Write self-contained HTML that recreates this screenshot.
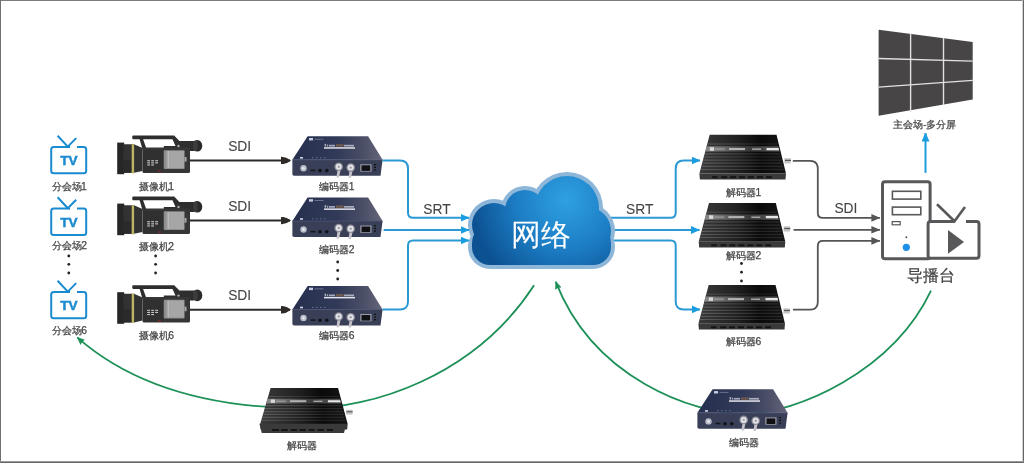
<!DOCTYPE html>
<html><head><meta charset="utf-8">
<style>
html,body{margin:0;padding:0;background:#fff;}
body{width:1024px;height:463px;overflow:hidden;position:relative;font-family:"Liberation Sans",sans-serif;}
svg{position:absolute;left:0;top:0;will-change:transform;}
.lbl{font-family:"Liberation Sans",sans-serif;fill:#444;stroke:#444;stroke-width:0.25px;}
</style></head><body>
<svg width="1024" height="463" viewBox="0 0 1024 463">
<defs>
  <linearGradient id="encTop" x1="0" y1="0" x2="1" y2="0">
    <stop offset="0" stop-color="#26304e"/>
    <stop offset="0.5" stop-color="#313a58"/>
    <stop offset="0.8" stop-color="#4c5068"/>
    <stop offset="1" stop-color="#66677a"/>
  </linearGradient>
  <linearGradient id="decTop" x1="0" y1="0" x2="1" y2="0">
    <stop offset="0" stop-color="#3a3a3a"/>
    <stop offset="0.45" stop-color="#202020"/>
    <stop offset="0.7" stop-color="#0a0a0a"/>
    <stop offset="1" stop-color="#161616"/>
  </linearGradient>
  <radialGradient id="cloudG" cx="0.55" cy="0.35" r="0.7">
    <stop offset="0" stop-color="#2d9ad9"/>
    <stop offset="0.6" stop-color="#1a78be"/>
    <stop offset="1" stop-color="#0d5a9a"/>
  </radialGradient>

  <!-- TV icon (row1 coords) -->
  <g id="tv">
    <path d="M70,147 H53.7 Q51.2,147 51.2,149.5 V170.8 Q51.2,173.3 53.7,173.3 H83.7 Q86.2,173.3 86.2,170.8 V149.5 Q86.2,147 83.7,147 H77" fill="none" stroke="#1b8bd0" stroke-width="2"/>
    <polyline points="57.6,135.7 67.8,146.6 76.2,138.1" fill="none" stroke="#1b8bd0" stroke-width="2"/>
    <text x="69" y="165.2" text-anchor="middle" font-family="Liberation Sans" font-weight="bold" font-size="13.6" fill="#1b8bd0" stroke="#1b8bd0" stroke-width="0.5">TV</text>
  </g>

  <!-- Camera (row1 coords) -->
  <g id="cam">
    <!-- handle -->
    <path d="M133,135.6 H174.2 L179.4,141 H194 V151 H143 L139.6,139.3 H133 Q132.2,139.3 132.2,137.5 Q132.2,135.6 133,135.6 Z" fill="#2e2e2e"/>
    <path d="M143.1,139.3 H172.5 L175.5,146 H163.8 V148.1 H146.2 Z" fill="#fff"/>
    <!-- eyecup -->
    <ellipse cx="197.3" cy="145.8" rx="5" ry="5.8" fill="#2a2a2a"/>
    <ellipse cx="195.3" cy="145.8" rx="2.4" ry="5.2" fill="#3c3c3c"/>
    <!-- lens -->
    <rect x="117.2" y="142.6" width="7" height="31.6" fill="#262626"/>
    <path d="M123.5,144.2 H134 L142.5,148 V171 L134,172.8 H123.5 Z" fill="#323232"/>
    <rect x="123.5" y="160" width="8" height="12.8" fill="#2a2a2a"/>
    <rect x="131.7" y="144.2" width="2.4" height="29.2" fill="#bdb464"/>
    <!-- body -->
    <rect x="142.5" y="147.5" width="47.5" height="25.5" rx="1.5" fill="#363636"/>
    <rect x="143" y="150" width="20" height="22" fill="#303030"/>
    <!-- screen -->
    <rect x="163.8" y="150.2" width="20.8" height="18.7" rx="1" fill="#8e8e8e"/>
    <rect x="166.5" y="151" width="17.5" height="17" fill="#a6a6a6"/>
    <rect x="168" y="151" width="1" height="17" fill="#b8b8b8"/>
    <rect x="184.5" y="157" width="2" height="4.6" fill="#aaa"/>
    <!-- buttons -->
    <g fill="#c8c8c8">
      <rect x="147.2" y="160.2" width="2.8" height="1.1"/><rect x="151.2" y="160.2" width="2.8" height="1.1"/><rect x="155.2" y="160.2" width="2.8" height="1.1"/>
      <rect x="147.2" y="162.3" width="2.8" height="1.1"/><rect x="151.2" y="162.3" width="2.8" height="1.1"/><rect x="155.2" y="162.3" width="2.8" height="1.1"/>
      <rect x="147.2" y="164.4" width="2.8" height="1.1"/><rect x="151.2" y="164.4" width="2.8" height="1.1"/>
    </g>
    <circle cx="178.5" cy="146" r="1.2" fill="#aaa"/>
    <rect x="158" y="170.5" width="3" height="1.2" fill="#8a2a2a"/>
  </g>

  <!-- Encoder (row1 coords) -->
  <g id="enc">
    <path d="M307.6,136.2 H368.1 L382.6,159.7 H292.4 Z" fill="url(#encTop)"/>
    <path d="M292.4,159.7 H382.6 L380.5,175.7 H294 Q292.4,175.7 292.4,174 Z" fill="#393f57"/>
    <rect x="292.4" y="159.5" width="90" height="0.8" fill="#4a5270"/>
    <!-- logo -->
    <rect x="309" y="138" width="4" height="2.4" fill="#c8cce0"/>
    <rect x="314.5" y="138.8" width="9" height="0.8" fill="#7a80a0"/>
    <g fill="#d8dae6" opacity="0.7"><rect x="324.6" y="143.9" width="1.6" height="2.6"/><rect x="327" y="144.6" width="1.2" height="1.9"/><rect x="329" y="144.8" width="6" height="1.7"/><rect x="344" y="144.8" width="10" height="1.7"/></g>
    <rect x="336" y="144.2" width="7.5" height="2.4" fill="#6e5a4c"/>
    <rect x="324" y="147.2" width="31" height="1.5" fill="#e4e4ec"/>
    <rect x="300" y="157" width="3" height="1.6" fill="#d0d4e4"/>
    <g fill="#6a7090"><rect x="312" y="157.2" width="1.5" height="1"/><rect x="316" y="157.2" width="1.5" height="1"/><rect x="320" y="157.2" width="1.5" height="1"/><rect x="324" y="157.2" width="1.5" height="1"/></g>
    <!-- front components -->
    <circle cx="303.5" cy="168.3" r="3.2" fill="#b8bcc8"/>
    <circle cx="303.5" cy="168.3" r="1.4" fill="#e8e8ee"/>
    <rect x="310.5" y="169.6" width="5" height="1.6" fill="#151821"/>
    <circle cx="320" cy="170.6" r="1.8" fill="#11131a"/>
    <circle cx="326.8" cy="170.6" r="1.8" fill="#11131a"/>
    <!-- BNC -->
    <path d="M337.5,170 L336.5,177.5 L339,177.5 L340.5,170 Z" fill="#c9c4cc"/>
    <path d="M349.5,171 L348.5,177.8 L351,177.8 L352.5,171 Z" fill="#c9c4cc"/>
    <circle cx="338.7" cy="166.8" r="4.3" fill="#8e8e98"/>
    <circle cx="338.7" cy="166.8" r="3" fill="#e4e4ea"/>
    <circle cx="338.7" cy="166.8" r="1.2" fill="#a0a0a8"/>
    <circle cx="350.7" cy="167.6" r="4.3" fill="#8e8e98"/>
    <circle cx="350.7" cy="167.6" r="3" fill="#e4e4ea"/>
    <circle cx="350.7" cy="167.6" r="1.2" fill="#a0a0a8"/>
    <!-- RJ45 -->
    <rect x="360.3" y="164.3" width="11.2" height="7.3" fill="#9c9eaa"/>
    <rect x="361.5" y="165.3" width="8.8" height="5.6" fill="#101015"/>
    <g fill="#111"><rect x="374" y="164" width="2" height="1.2"/><rect x="374" y="166.7" width="2" height="1.2"/><rect x="374" y="169.4" width="2" height="1.2"/></g>
  </g>

  <!-- Decoder (row1 coords) -->
  <g id="dec">
    <path d="M709.7,134.8 H776.5 L786,173.6 H699.4 Z" fill="url(#decTop)"/>
    <g fill="url(#decRidge)">
      <path d="M707.6,143.6 H777.4 L777.6,144.4 H707.4 Z"/>
      <path d="M705.2,153.2 H779.8 L780.1,154.4 H704.9 Z"/>
      <path d="M704.4,156.4 H780.5 L780.8,157.6 H704.1 Z"/>
      <path d="M703.6,159.6 H781.3 L781.6,160.8 H703.3 Z"/>
      <path d="M702.9,162.6 H782.0 L782.3,163.8 H702.6 Z"/>
      <path d="M702.1,165.8 H782.8 L783.1,167.0 H701.8 Z"/>
      <path d="M701.3,169.0 H783.6 L783.9,170.0 H701.0 Z"/>
    </g>
    <path d="M706.6,146.3 H778.2 L779.5,151.6 H705.3 Z" fill="url(#decStrip)"/>
    <rect x="709.8" y="147.2" width="4.2" height="3.6" fill="#d8d8d8"/>
    <rect x="715" y="148.5" width="10" height="1" fill="#aaa"/>
    <rect x="729" y="148" width="16" height="2" fill="#b4b4b4"/>
    <rect x="752" y="148.5" width="9" height="1.2" fill="#bbb"/>
    <path d="M766.5,147.9 H778.6 L779.1,150.2 H766.5 Z" fill="#e6e6e6"/>
    <path d="M699.4,173.6 H786 L785.5,179.5 H699.9 Z" fill="#393939"/>
    <g fill="#141414">
      <rect x="711.9" y="176.2" width="5.7" height="2"/><rect x="721.2" y="176.2" width="6" height="2"/><rect x="730" y="176.2" width="6" height="2"/>
      <rect x="739" y="176.2" width="6" height="2"/><rect x="748" y="176.2" width="6" height="2"/><rect x="757" y="176.2" width="6" height="2"/><rect x="766" y="176.2" width="6" height="2"/>
    </g>
    <rect x="784.3" y="158.2" width="6.5" height="5.2" fill="#c4c4c4"/>
    <rect x="785" y="159.8" width="6" height="1.2" fill="#555"/>
  </g>

  <marker id="arrDark" viewBox="0 0 10 8" refX="9" refY="4" markerWidth="10" markerHeight="8" markerUnits="userSpaceOnUse" orient="auto">
    <path d="M0,0.3 Q5,0 10,4 Q5,8 0,7.7 Z" fill="#2e2a28"/>
  </marker>
  <marker id="arrBlue" viewBox="0 0 9 8" refX="8.5" refY="4" markerWidth="9" markerHeight="8" markerUnits="userSpaceOnUse" orient="auto">
    <path d="M0,0 L9,4 L0,8 Z" fill="#1a9ddf"/>
  </marker>
  <marker id="arrGray" viewBox="0 0 9 8" refX="8.5" refY="4" markerWidth="9" markerHeight="8" markerUnits="userSpaceOnUse" orient="auto">
    <path d="M0,0.2 L9,4 L0,7.8 Z" fill="#555"/>
  </marker>
  <marker id="arrGreen" viewBox="0 0 8 7" refX="7.5" refY="3.5" markerWidth="8" markerHeight="7" markerUnits="userSpaceOnUse" orient="auto">
    <path d="M0,0 L8,3.5 L0,7 L0.8,3.5 Z" fill="#1d9058"/>
  </marker>
  <radialGradient id="cloudG2" gradientUnits="userSpaceOnUse" cx="566" cy="200" r="95" fx="566" fy="200">
    <stop offset="0" stop-color="#2fa0e2"/>
    <stop offset="0.5" stop-color="#1d7fc6"/>
    <stop offset="1" stop-color="#0c5192"/>
  </radialGradient>
  <linearGradient id="decRidge" x1="0" y1="0" x2="1" y2="0">
    <stop offset="0" stop-color="#5e5e5e"/>
    <stop offset="0.5" stop-color="#3a3a3a"/>
    <stop offset="0.75" stop-color="#222"/>
    <stop offset="1" stop-color="#2c2c2c"/>
  </linearGradient>
  <linearGradient id="decStrip" x1="0" y1="0" x2="1" y2="0">
    <stop offset="0" stop-color="#8a8a8a"/>
    <stop offset="0.6" stop-color="#3a3a3a"/>
    <stop offset="1" stop-color="#5a5a5a"/>
  </linearGradient>
</defs>

<!-- border -->
<rect x="0" y="0" width="1024" height="1" fill="#7c7c7c"/><rect x="0" y="0" width="1" height="463" fill="#707070"/><rect x="1023" y="0" width="1" height="463" fill="#666"/><rect x="1022" y="0" width="1" height="463" fill="#d0d0d0"/><rect x="0" y="462" width="1024" height="1" fill="#666"/><rect x="0" y="461" width="1024" height="1" fill="#999"/>


<!-- green curves -->
<path d="M534.1,285.2 C473.6,378.3 369.0,408.4 307.1,408.4 C250.7,408.4 150.6,402.1 77.2,337.4" fill="none" stroke="#1d9058" stroke-width="1.8" marker-end="url(#arrGreen)"/>
<path d="M931.0,290.7 C892.4,372.1 795.7,413.9 744.0,413.9 C693.9,413.9 593.4,379.0 555.7,281.6" fill="none" stroke="#1d9058" stroke-width="1.8" marker-end="url(#arrGreen)"/>
<!-- TVs -->
<use href="#tv"/>
<use href="#tv" transform="translate(0,61.6)"/>
<use href="#tv" transform="translate(0,145)"/>
<!-- cameras -->
<use href="#cam"/>
<use href="#cam" transform="translate(0,61)"/>
<use href="#cam" transform="translate(0,149.6)"/>
<!-- SDI lines left -->
<g stroke="#2e2a28" stroke-width="2" fill="none">
  <path d="M189.8,160.4 H290" marker-end="url(#arrDark)"/>
  <path d="M189.8,220.6 H290" marker-end="url(#arrDark)"/>
  <path d="M189.8,309.7 H290" marker-end="url(#arrDark)"/>
</g>
<!-- encoders -->
<use href="#enc"/>
<use href="#enc" transform="translate(0,61.2)"/>
<use href="#enc" transform="translate(0,149.7)"/>
<use href="#enc" transform="translate(405,253.1)"/>
<!-- blue lines right -->
<g stroke="#2b9ad4" stroke-width="2" fill="none">
  <path d="M600,217.7 H670.7 Q675.7,217.7 675.7,212.7 V168.5 Q675.7,160.5 683.7,160.5 H700" marker-end="url(#arrBlue)"/>
  <path d="M600,230 H699.5" marker-end="url(#arrBlue)"/>
  <path d="M600,240.4 H670.7 Q675.7,240.4 675.7,245.4 V301.4 Q675.7,309.4 683.7,309.4 H700" marker-end="url(#arrBlue)"/>
</g>
<!-- cloud -->
<g id="cloud">
  <g fill="#8db6d9">
    <circle cx="494" cy="225" r="26"/>
    <circle cx="525" cy="210" r="24"/>
    <circle cx="567" cy="208" r="36"/>
    <circle cx="587" cy="231" r="28"/>
    <rect x="468" y="225" width="147" height="44" rx="22"/>
    <rect x="491" y="215" width="100" height="50"/>
  </g>
  <g fill="url(#cloudG2)">
    <circle cx="494" cy="225" r="22"/>
    <circle cx="525" cy="210" r="20"/>
    <circle cx="567" cy="208" r="32"/>
    <circle cx="587" cy="231" r="24"/>
    <rect x="472" y="225" width="139" height="40" rx="18"/>
    <rect x="491" y="215" width="100" height="45"/>
  </g>
  <text x="541" y="244.5" text-anchor="middle" font-size="29.5" font-weight="300" fill="#fff">网络</text>
</g>
<!-- blue lines left -->
<g stroke="#2b9ad4" stroke-width="2" fill="none">
  <path d="M382.6,160.5 H400 Q408,160.5 408,168.5 V212.8 Q408,217.8 413,217.8 H469" marker-end="url(#arrBlue)"/>
  <path d="M383.6,230 H469" marker-end="url(#arrBlue)"/>
  <path d="M382.6,309.6 H400 Q408,309.6 408,301.6 V245.5 Q408,240.5 413,240.5 H469" marker-end="url(#arrBlue)"/>
</g>
<!-- decoders -->
<use href="#dec"/>
<use href="#dec" transform="translate(-0.7,68.1)"/>
<use href="#dec" transform="translate(-1,150.1)"/>
<use href="#dec" transform="matrix(1.01,0,0,0.93,-446.2,262.6)"/>
<path d="M259.4,423.8 H346.3 L344,433 H261.8 Z" fill="#3a3a3a"/>
<g fill="#151515"><rect x="272" y="429" width="7" height="2"/><rect x="281.3" y="429" width="6.5" height="2"/><rect x="290.6" y="429" width="6.5" height="2"/><rect x="299.4" y="429" width="6.5" height="2"/><rect x="308.7" y="429" width="6" height="2"/><rect x="317.5" y="429" width="6.5" height="2"/><rect x="326.8" y="429" width="6.2" height="2"/></g>
<!-- gray lines right -->
<g stroke="#555" stroke-width="1.8" fill="none">
  <path d="M792.8,160.8 H809.8 Q817.8,160.8 817.8,168.8 V212.9 Q817.8,217.9 822.8,217.9 H879.9" marker-end="url(#arrGray)"/>
  <path d="M793.6,229.8 H879.9" marker-end="url(#arrGray)"/>
  <path d="M793,309.7 H809.8 Q817.8,309.7 817.8,301.7 V245.9 Q817.8,240.9 822.8,240.9 H879.9" marker-end="url(#arrGray)"/>
</g>
<!-- tower -->
<rect x="882.5" y="181.8" width="47.6" height="77" rx="2.5" fill="#fff" stroke="#58585a" stroke-width="3"/>
<rect x="892.4" y="191.3" width="28.4" height="7.8" fill="none" stroke="#58585a" stroke-width="1.6"/>
<rect x="892.4" y="207.1" width="28.4" height="7.6" fill="none" stroke="#58585a" stroke-width="1.6"/>
<rect x="892.2" y="221.6" width="8" height="3.2" fill="none" stroke="#58585a" stroke-width="1.2"/>
<circle cx="906.3" cy="237.3" r="1" fill="#58585a"/>
<circle cx="906.3" cy="247.3" r="3.6" fill="#1e8fe6"/>
<!-- tv play -->
<path d="M954,221.5 H930.5 Q928.1,221.5 928.1,224 V255.8 Q928.1,258.2 930.5,258.2 H976.6 Q979,258.2 979,255.8 V224 Q979,221.5 976.6,221.5 H966" fill="#fff" stroke="#58585a" stroke-width="3"/>
<polyline points="937,204.2 954.5,221.2 965,207" fill="none" stroke="#58585a" stroke-width="2.6"/>
<path d="M948,230 L964,241.9 L948,253.7 Z" fill="#58585a"/>
<text x="930.8" y="281" text-anchor="middle" font-size="16" class="lbl">导播台</text>
<!-- screen wall -->
<path d="M878.6,29.8 L972.7,41.9 V99.6 L878.6,115.8 Z" fill="#474545"/>
<g stroke="#e2e2e2" stroke-width="1.4">
  <line x1="910.6" y1="33" x2="910.6" y2="112"/>
  <line x1="943.5" y1="37.5" x2="943.5" y2="105"/>
  <line x1="878.6" y1="58.5" x2="972.7" y2="61.1"/>
  <line x1="878.6" y1="87.1" x2="972.7" y2="80.4"/>
</g>
<text x="924.8" y="127.5" text-anchor="middle" font-size="9.5" class="lbl">主会场-多分屏</text>
<path d="M925.5,172.8 V133" stroke="#1a9ddf" stroke-width="2" fill="none" marker-end="url(#arrBlue)"/>
<!-- labels -->
<g class="lbl" font-size="9.5">
  <text x="69.2" y="189.8" text-anchor="middle">分会场<tspan font-size="10.3" dx="-0.6">1</tspan></text>
  <text x="69.5" y="249.2" text-anchor="middle">分会场<tspan font-size="10.3" dx="-0.6">2</tspan></text>
  <text x="69.5" y="334.2" text-anchor="middle">分会场<tspan font-size="10.3" dx="-0.6">6</tspan></text>
  <text x="156.3" y="190" text-anchor="middle">摄像机<tspan font-size="10.3" dx="-0.6">1</tspan></text>
  <text x="156.5" y="249.8" text-anchor="middle">摄像机<tspan font-size="10.3" dx="-0.6">2</tspan></text>
  <text x="156.5" y="339" text-anchor="middle">摄像机<tspan font-size="10.3" dx="-0.6">6</tspan></text>
  <text x="337" y="190" text-anchor="middle">编码器<tspan font-size="10.3" dx="-0.6">1</tspan></text>
  <text x="337" y="253" text-anchor="middle">编码器<tspan font-size="10.3" dx="-0.6">2</tspan></text>
  <text x="337" y="339.3" text-anchor="middle">编码器<tspan font-size="10.3" dx="-0.6">6</tspan></text>
  <text x="743.6" y="195.6" text-anchor="middle">解码器<tspan font-size="10.3" dx="-0.6">1</tspan></text>
  <text x="743.6" y="259.2" text-anchor="middle">解码器<tspan font-size="10.3" dx="-0.6">2</tspan></text>
  <text x="743.6" y="345.3" text-anchor="middle">解码器<tspan font-size="10.3" dx="-0.6">6</tspan></text>
  <text x="302" y="449.3" text-anchor="middle" font-size="9.9">解码器</text>
  <text x="744" y="446" text-anchor="middle" font-size="9.9">编码器</text>
</g>
<g class="lbl" font-size="15" style="stroke-width:0.1px">
  <text transform="translate(239.65,150.7) scale(0.92,1)" x="0" y="0" text-anchor="middle">SDI</text>
  <text transform="translate(239.65,210.9) scale(0.92,1)" x="0" y="0" text-anchor="middle">SDI</text>
  <text transform="translate(239.65,300.3) scale(0.92,1)" x="0" y="0" text-anchor="middle">SDI</text>
  <text transform="translate(436.9,213.5) scale(0.92,1)" x="0" y="0" text-anchor="middle">SRT</text>
  <text transform="translate(639.7,213.8) scale(0.92,1)" x="0" y="0" text-anchor="middle">SRT</text>
  <text transform="translate(845.9,213.4) scale(0.92,1)" x="0" y="0" text-anchor="middle">SDI</text>
</g>
<!-- dots -->
<g fill="#222">
  <circle cx="68.8" cy="256" r="1.4"/><circle cx="68.8" cy="264.3" r="1.4"/><circle cx="68.8" cy="273" r="1.4"/>
  <circle cx="155.6" cy="256" r="1.4"/><circle cx="155.6" cy="264.3" r="1.4"/><circle cx="155.6" cy="273" r="1.4"/>
  <circle cx="337.7" cy="262" r="1.4"/><circle cx="337.7" cy="270.5" r="1.4"/><circle cx="337.7" cy="279" r="1.4"/>
  <circle cx="741.5" cy="263.5" r="1.4"/><circle cx="741.5" cy="272.2" r="1.4"/><circle cx="741.5" cy="281" r="1.4"/>
</g>
</svg>
</body></html>
